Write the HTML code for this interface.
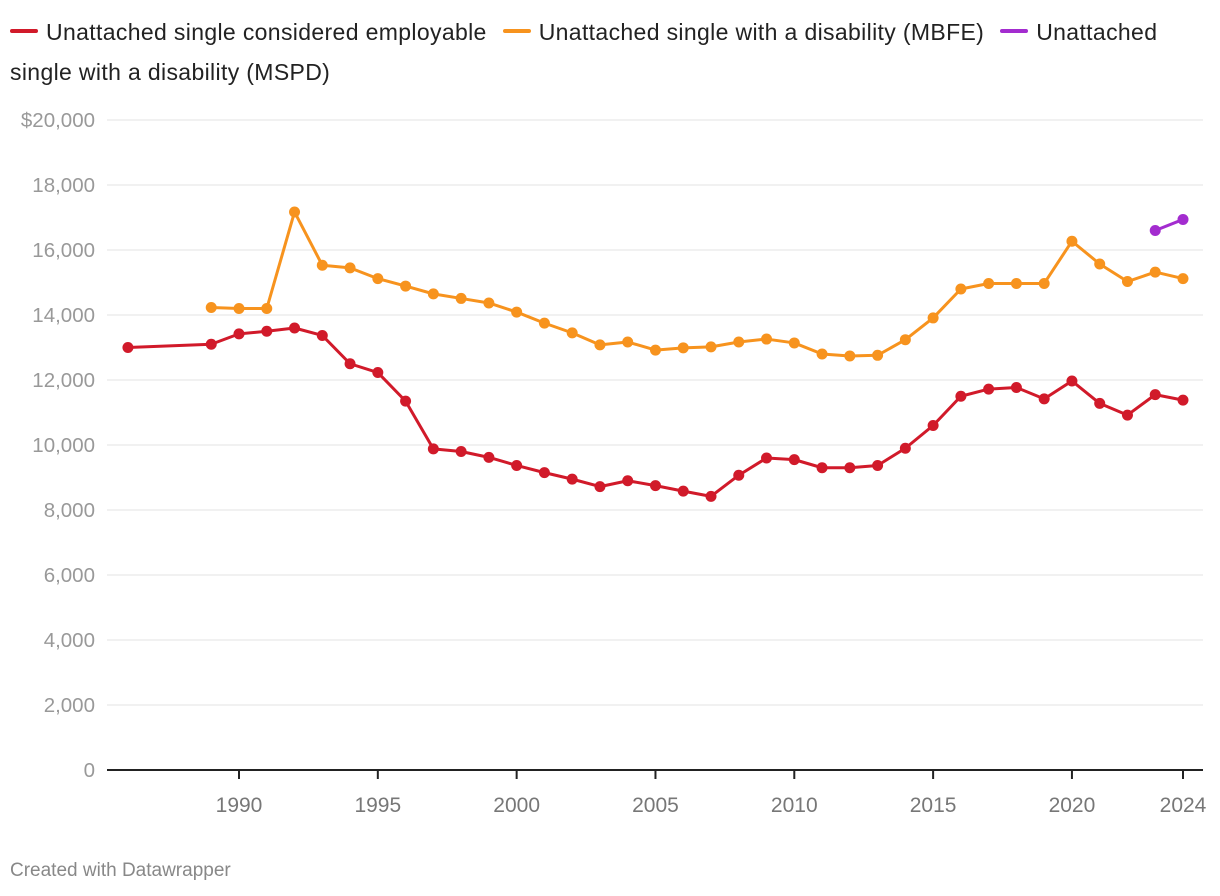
<!DOCTYPE html>
<html><head><meta charset="utf-8"><style>
body{margin:0;background:#fff;width:1220px;height:896px;overflow:hidden;font-family:"Liberation Sans",sans-serif}
.legend{position:absolute;left:10px;top:12px;width:1200px;font-size:23px;letter-spacing:0.35px;color:#222;line-height:40px}
.li{display:inline-block;margin-right:16px}
.sw{display:inline-block;width:28px;height:4px;border-radius:2px;vertical-align:middle;margin-right:8px;position:relative;top:-3px}
.foot{position:absolute;left:10px;top:860px;font-size:19px;color:#888}
</style></head><body>
<div class="legend">
<span class="li"><span class="sw" style="background:#d11a2a"></span>Unattached single considered employable</span><span class="li"><span class="sw" style="background:#f7931e"></span>Unattached single with a disability (MBFE)</span><span><span class="sw" style="background:#a32ccf"></span>Unattached single with a disability (MSPD)</span>
</div>
<svg id="chart" width="1220" height="896" style="position:absolute;left:0;top:0"></svg>
<div class="foot">Created with Datawrapper</div>
<script>
const yTicks=[0,2000,4000,6000,8000,10000,12000,14000,16000,18000,20000];
const xTicks=[1990,1995,2000,2005,2010,2015,2020,2024];
const redYears=[1986,1989,1990,1991,1992,1993,1994,1995,1996,1997,1998,1999,2000,2001,2002,2003,2004,2005,2006,2007,2008,2009,2010,2011,2012,2013,2014,2015,2016,2017,2018,2019,2020,2021,2022,2023,2024];
const redValues=[13000,13100,13420,13500,13600,13370,12500,12230,11350,9880,9800,9620,9370,9150,8950,8720,8900,8750,8580,8420,9070,9600,9550,9300,9300,9370,9900,10600,11500,11720,11770,11420,11970,11280,10920,11550,11380];
const orangeYears=[1989,1990,1991,1992,1993,1994,1995,1996,1997,1998,1999,2000,2001,2002,2003,2004,2005,2006,2007,2008,2009,2010,2011,2012,2013,2014,2015,2016,2017,2018,2019,2020,2021,2022,2023,2024];
const orangeValues=[14230,14200,14200,17170,15530,15450,15120,14890,14650,14510,14370,14090,13750,13450,13080,13170,12920,12990,13020,13170,13260,13140,12800,12740,12760,13240,13910,14800,14970,14970,14970,16270,15570,15030,15320,15120];
const purpleYears=[2023,2024];
const purpleValues=[16600,16940];
const NS="http://www.w3.org/2000/svg",svg=document.getElementById('chart');
const x=yr=>239+(yr-1990)*(944/34);
const y=v=>770-v*0.0325;
function mk(t,a){const e=document.createElementNS(NS,t);for(const k in a)e.setAttribute(k,a[k]);svg.appendChild(e);return e;}
yTicks.forEach(t=>{
 if(t>0){const g=mk('line',{x1:107,x2:1203,y1:y(t),y2:y(t),stroke:'#e3e3e3','stroke-width':1});
 
 }
 const l=mk('text',{x:95,y:y(t)+7,'text-anchor':'end','font-size':20.5,fill:'#999','font-family':'Liberation Sans'});
 l.textContent=t===20000?'$20,000':t.toLocaleString('en-US');
 
 
});
const base=mk('line',{x1:107,x2:1203,y1:770,y2:770,stroke:'#222','stroke-width':2});


xTicks.forEach(t=>{
 mk('line',{x1:x(t),x2:x(t),y1:770,y2:779,stroke:'#222','stroke-width':2});
 const l=mk('text',{x:x(t),y:812,'text-anchor':'middle','font-size':21,fill:'#777','font-family':'Liberation Sans'});
 l.textContent=t;
 
 
});
function series(ys,vs,c,name){
 const p=mk('polyline',{points:ys.map((yr,i)=>x(yr)+','+y(vs[i])).join(' '),fill:'none',stroke:c,'stroke-width':3,'stroke-linejoin':'round'});
 
 
 ys.forEach((yr,i)=>{
  const d=mk('circle',{cx:x(yr),cy:y(vs[i]),r:5.5,fill:c});
  
  
 });
}
series(redYears,redValues,'#d11a2a','employable');
series(orangeYears,orangeValues,'#f7931e','mbfe');
series(purpleYears,purpleValues,'#a32ccf','mspd');
</script>
</body></html>
